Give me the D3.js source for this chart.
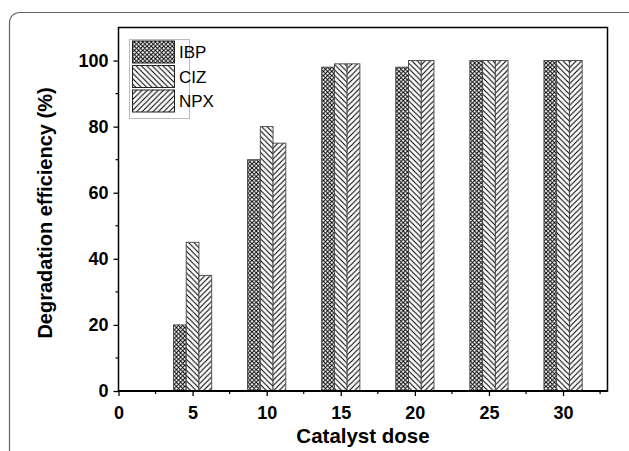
<!DOCTYPE html>
<html><head><meta charset="utf-8">
<script src="https://cdn.jsdelivr.net/npm/d3@7"></script>
<style>body{margin:0;background:#fff;}svg{display:block;}</style>
</head><body>
<script>
const doses = [5, 10, 15, 20, 25, 30];
const seriesNames = ["IBP", "CIZ", "NPX"];
const IBP = [20, 70, 98, 98, 100, 100];
const CIZ = [45, 80, 99, 100, 100, 100];
const NPX = [35, 75, 99, 100, 100, 100];
const seriesValues = [IBP, CIZ, NPX];
const xTicks = [0, 5, 10, 15, 20, 25, 30];
const yTicks = [0, 20, 40, 60, 80, 100];

const W = 629, H = 451;
const svg = d3.select("body").append("svg").attr("width", W).attr("height", H);
const defs = svg.append("defs");

function linePattern(id, spacing) {
  const p = defs.append("pattern").attr("id", id).attr("patternUnits", "userSpaceOnUse")
    .attr("width", spacing).attr("height", spacing);
  p.append("rect").attr("width", spacing).attr("height", spacing).attr("fill", "#fff");
  return p;
}
// cross-hatch
(function(){
  const s = 4.2;
  const p = linePattern("pIBP", s);
  p.append("path").attr("d", `M0,0L${s},${s}M${-s/2},${s/2}L${s/2},${s*1.5}M${s/2},${-s/2}L${s*1.5},${s/2}`)
    .attr("stroke", "#000").attr("stroke-width", 1);
  p.append("path").attr("d", `M0,${s}L${s},0M${-s/2},${s/2}L${s/2},${-s/2}M${s/2},${s*1.5}L${s*1.5},${s/2}`)
    .attr("stroke", "#000").attr("stroke-width", 1);
})();
// back diagonal "\"
(function(){
  const s = 5.4;
  const p = linePattern("pCIZ", s);
  p.append("path").attr("d", `M0,0L${s},${s}M${-s/2},${s/2}L${s/2},${s*1.5}M${s/2},${-s/2}L${s*1.5},${s/2}`)
    .attr("stroke", "#000").attr("stroke-width", 1.1);
})();
// forward diagonal "/"
(function(){
  const s = 5.4;
  const p = linePattern("pNPX", s);
  p.append("path").attr("d", `M0,${s}L${s},0M${-s/2},${s/2}L${s/2},${-s/2}M${s/2},${s*1.5}L${s*1.5},${s/2}`)
    .attr("stroke", "#000").attr("stroke-width", 1.1);
})();
const fills = ["url(#pIBP)", "url(#pCIZ)", "url(#pNPX)"];

// outer rounded frame
svg.append("rect").attr("x", 9.5).attr("y", 12.5).attr("width", 640).attr("height", 460)
  .attr("rx", 10).attr("fill", "none").attr("stroke", "#666").attr("stroke-width", 1.2);

const L = 118.5, R = 607.5, T = 27.5, B = 391;
const x = d3.scaleLinear().domain([0, 33]).range([L, R]);
const y = d3.scaleLinear().domain([0, 110]).range([B, T]);
const barW = x(0.86) - x(0);

// bars
const g = svg.append("g");
seriesValues.forEach((vals, si) => {
  g.selectAll(null).data(vals).enter().append("rect")
    .attr("x", (d, i) => x(doses[i]) + (si - 1.5) * barW)
    .attr("y", d => y(d))
    .attr("width", barW)
    .attr("height", d => y(0) - y(d))
    .attr("fill", fills[si])
    .attr("stroke", "#444").attr("stroke-width", 0.9);
});

// plot frame
svg.append("rect").attr("x", L).attr("y", T).attr("width", R - L).attr("height", B - T)
  .attr("fill", "none").attr("stroke", "#000").attr("stroke-width", 1.5);

// axes
const font = "'Liberation Sans', Arial, sans-serif";
const xAxis = d3.axisBottom(x).tickValues(xTicks).tickSize(5).tickPadding(10).tickFormat(d3.format("d"));
const xa = svg.append("g").attr("transform", `translate(0,${B})`).call(xAxis);
const yAxis = d3.axisLeft(y).tickValues(yTicks).tickSize(5).tickPadding(5).tickFormat(d3.format("d"));
const ya = svg.append("g").attr("transform", `translate(${L},0)`).call(yAxis);
[xa, ya].forEach(a => {
  a.select(".domain").remove();
  a.selectAll("line").attr("stroke", "#000").attr("stroke-width", 1.3);
  a.selectAll("text").attr("font-family", font).attr("font-weight", "bold")
    .attr("font-size", 18).attr("fill", "#000");
});
// minor ticks
const xMinor = d3.range(2.5, 33, 5);
svg.append("g").selectAll("line").data(xMinor).enter().append("line")
  .attr("x1", d => x(d)).attr("x2", d => x(d)).attr("y1", B).attr("y2", B + 3)
  .attr("stroke", "#000").attr("stroke-width", 1.2);
const yMinor = d3.range(10, 110, 20);
svg.append("g").selectAll("line").data(yMinor).enter().append("line")
  .attr("x1", L).attr("x2", L - 3).attr("y1", d => y(d)).attr("y2", d => y(d))
  .attr("stroke", "#000").attr("stroke-width", 1.2);
// bottom axis line thicker
svg.append("line").attr("x1", L).attr("x2", R).attr("y1", B).attr("y2", B)
  .attr("stroke", "#000").attr("stroke-width", 2);

// axis titles
svg.append("text").attr("x", (L + R) / 2).attr("y", 443).attr("text-anchor", "middle")
  .attr("font-family", font).attr("font-weight", "bold").attr("font-size", 20.5).text("Catalyst dose");
svg.append("text").attr("transform", `translate(52,213) rotate(-90)`)
  .attr("text-anchor", "middle").attr("font-family", font).attr("font-weight", "bold")
  .attr("font-size", 20).text("Degradation efficiency (%)");

// legend
const lg = svg.append("g");
lg.append("rect").attr("x", 129.5).attr("y", 39.5).attr("width", 60).attr("height", 79)
  .attr("fill", "#fff").attr("stroke", "#bbb").attr("stroke-width", 1);
seriesNames.forEach((name, i) => {
  const yy = 41 + i * 24.5;
  lg.append("rect").attr("x", 132.5).attr("y", yy).attr("width", 42).attr("height", 22)
    .attr("fill", fills[i]).attr("stroke", "#222").attr("stroke-width", 1);
  lg.append("text").attr("x", 179).attr("y", yy + 17).attr("font-family", font)
    .attr("font-size", 17).attr("fill", "#000").text(name);
});
</script>
</body></html>
